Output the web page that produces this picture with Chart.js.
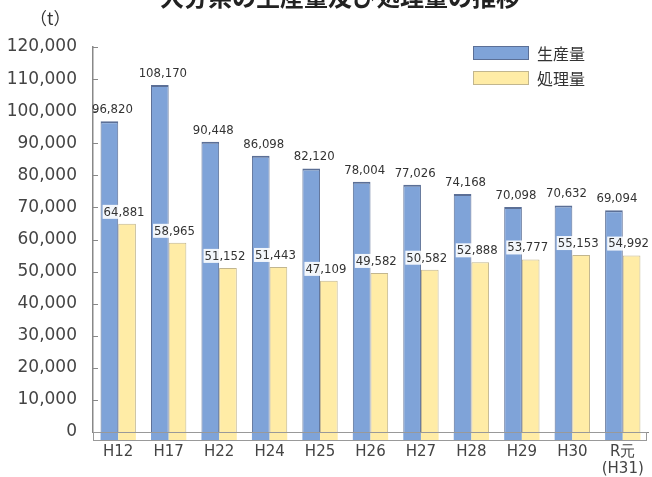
<!DOCTYPE html>
<html>
<head>
<meta charset="utf-8">
<script src="https://cdn.jsdelivr.net/npm/chart.js@4.4.0/dist/chart.umd.min.js"></script>
<style>
  body { margin: 0; background: #fff; }
  #wrap { position: relative; width: 652px; height: 477px; overflow: hidden; font-family: 'Noto Sans CJK JP', sans-serif; }
  #title { position: absolute; top: -16px; left: 0; width: 680px; text-align: center; font-size: 24px; font-weight: bold; color: #222; line-height: 1; }
  #unit { position: absolute; left: 30px; top: 5px; font-size: 17px; color: #333; }
  .leg { position: absolute; left: 473px; height: 16px; display: flex; align-items: center; font-size: 16px; color: #333; }
  .leg span.box { display: inline-block; width: 56px; height: 14px; margin-right: 8px; box-sizing: border-box; }
  canvas { position: absolute; left: 0; top: 0; }
</style>
</head>
<body>
<div id="wrap">
  <canvas id="c" width="652" height="477"></canvas>
  <div id="title">大分県の生産量及び処理量の推移</div>
  <div id="unit">（t）</div>
  <div class="leg" style="top:45px"><span class="box" style="background:#7fa3d8;border:1.5px solid #5b6f96"></span>生産量</div>
  <div class="leg" style="top:70px"><span class="box" style="background:#ffeca6;border:1.5px solid #c2b68e"></span>処理量</div>
</div>
<script>
// data
const years = ['H12', 'H17', 'H22', 'H24', 'H25', 'H26', 'H27', 'H28', 'H29', 'H30', ['R元', '(H31)']];
const production = [96820, 108170, 90448, 86098, 82120, 78004, 77026, 74168, 70098, 70632, 69094];
const treated = [64881, 58965, 51152, 51443, 47109, 49582, 50582, 52888, 53777, 55153, 54992];

const fmt = v => v.toLocaleString('en-US');

// value labels above each bar
const valueLabels = {
    id: 'valueLabels',
    afterDatasetsDraw(chart) {
        const ctx = chart.ctx;
        ctx.save();
        ctx.font = '13px "Liberation Sans Narrow", "DejaVu Sans Condensed", sans-serif';
        ctx.textAlign = 'center';
        ctx.textBaseline = 'bottom';
        chart.data.datasets.forEach((ds, i) => {
            chart.getDatasetMeta(i).data.forEach((bar, j) => {
                const txt = fmt(ds.data[j]);
                const x = bar.x + (i === 0 ? 3 : -3);
                const y = bar.y - 5;
                if (i === 1) {
                    const w = ctx.measureText(txt).width;
                    ctx.fillStyle = 'rgba(255,255,255,0.9)';
                    ctx.fillRect(x - w / 2 - 1, y - 14, w + 2, 14);
                }
                ctx.fillStyle = '#333';
                ctx.fillText(txt, x, y);
            });
        });
        ctx.restore();
    }
};

// inner tick marks on y axis and the floor strip
const axisExtras = {
    id: 'axisExtras',
    beforeDatasetsDraw(chart) {
        const ctx = chart.ctx;
        const area = chart.chartArea;
        const y = chart.scales.y;
        ctx.save();
        ctx.strokeStyle = '#888';
        ctx.lineWidth = 1;
        y.ticks.forEach(t => {
            const py = Math.round(y.getPixelForValue(t.value)) + 0.5;
            ctx.beginPath();
            ctx.moveTo(area.left, py);
            ctx.lineTo(area.left + 5, py);
            ctx.stroke();
        });
        ctx.strokeStyle = '#999';
        ctx.strokeRect(area.left + 0.5, area.bottom + 0.5, area.right - area.left - 2, 8);
        chart.data.datasets.forEach((ds, i) => {
            chart.getDatasetMeta(i).data.forEach(bar => {
                ctx.fillStyle = ds.backgroundColor;
                ctx.fillRect(bar.x - bar.width / 2, area.bottom + 1, bar.width, 7);
            });
        });
        ctx.restore();
    }
};

new Chart(document.getElementById('c'), {
    type: 'bar',
    data: {
        labels: years,
        datasets: [{
            label: '生産量',
            data: production,
            backgroundColor: '#7fa3d8',
            borderColor: '#5b6f96',
            borderWidth: { top: 2, left: 1, right: 1, bottom: 0 },
            categoryPercentage: 0.7,
            barPercentage: 1
        }, {
            label: '処理量',
            data: treated,
            backgroundColor: '#ffeca6',
            borderColor: '#c2b68e',
            borderWidth: { top: 1, left: 1, right: 1, bottom: 0 },
            categoryPercentage: 0.7,
            barPercentage: 1
        }]
    },
    options: {
        responsive: false,
        animation: false,
        layout: { padding: { top: 47, right: 4, left: 0, bottom: 0 } },
        plugins: { legend: { display: false }, tooltip: { enabled: false } },
        scales: {
            x: {
                grid: { display: false },
                border: { color: '#888', width: 1 },
                ticks: { color: '#444', font: { size: 15, family: 'DejaVu Sans', lineHeight: 1.1 }, padding: 4, maxRotation: 0 },
                afterFit: s => { s.height = 45; }
            },
            y: {
                min: 0, max: 120000,
                grid: { display: false },
                border: { color: '#888', width: 1.5 },
                ticks: { stepSize: 10000, color: '#444', font: { size: 17, family: 'DejaVu Sans' }, padding: 8, callback: v => fmt(v) },
                afterFit: s => { s.width = 93; }
            }
        }
    },
    plugins: [valueLabels, axisExtras]
});
</script>
</body>
</html>
